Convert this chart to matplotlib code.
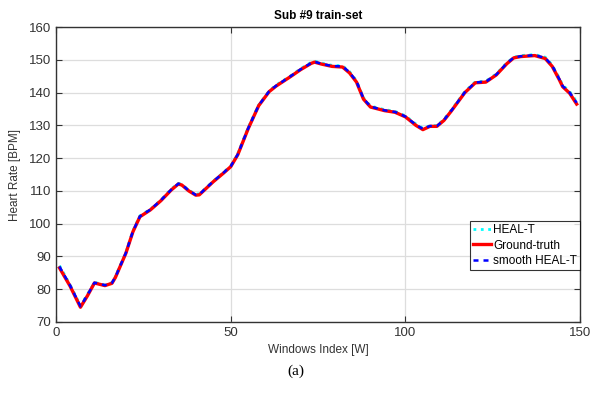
import matplotlib.pyplot as plt
import numpy as np

# window index + heart rate values
windows = [1, 4, 7, 9, 11, 14, 16, 17, 20, 22, 24, 27, 30, 33, 35, 36, 38, 40, 41,
           43, 45, 48, 50, 52, 55, 58, 61, 63, 67, 70, 73, 74, 76, 79, 82, 84, 86,
           88, 90, 94, 97, 100, 103, 105, 107, 109, 111, 113, 117, 120, 123, 126,
           129, 131, 133, 137, 140, 142, 144, 145, 147, 149]
ground_truth = [86.5, 81.0, 74.5, 78.0, 81.9, 81.1, 81.8, 83.6, 91.0, 97.5, 102.1,
                104.2, 107.0, 110.3, 112.1, 111.8, 110.0, 108.7, 108.8, 110.8, 112.8,
                115.5, 117.4, 121.0, 129.0, 136.0, 140.3, 142.0, 144.8, 147.0, 148.9,
                149.3, 148.7, 148.0, 147.8, 146.0, 143.2, 138.0, 135.6, 134.5, 134.0,
                132.6, 130.0, 128.7, 129.7, 129.7, 131.5, 134.2, 140.0, 143.0, 143.2,
                145.4, 148.8, 150.6, 151.0, 151.3, 150.4, 148.0, 144.0, 141.8, 139.8,
                136.5]
heal_t = [87.2, 81.4, 75.0, 78.4, 82.1, 81.3, 82.0, 83.8, 91.2, 97.8, 102.4,
          104.4, 107.2, 110.6, 112.3, 112.0, 110.2, 109.0, 109.1, 111.0, 113.0,
          115.7, 117.6, 121.3, 129.3, 136.2, 140.5, 142.3, 145.0, 147.3, 149.2,
          149.6, 149.0, 148.3, 148.2, 146.4, 143.6, 138.4, 135.9, 134.8, 134.3,
          132.9, 130.4, 129.1, 129.9, 129.9, 131.8, 134.5, 140.3, 143.3, 143.5,
          145.7, 149.1, 150.8, 151.3, 151.6, 150.8, 148.4, 144.5, 142.3, 140.3,
          137.2]
smooth_heal_t = [86.9, 81.2, 74.8, 78.2, 82.0, 81.2, 81.9, 83.7, 91.1, 97.6, 102.2,
                 104.3, 107.1, 110.4, 112.2, 111.9, 110.1, 108.8, 108.9, 110.9, 112.9,
                 115.6, 117.5, 121.1, 129.1, 136.1, 140.4, 142.1, 144.9, 147.1, 149.0,
                 149.4, 148.8, 148.1, 148.0, 146.2, 143.4, 138.2, 135.7, 134.6, 134.1,
                 132.7, 130.2, 128.9, 129.8, 129.8, 131.6, 134.3, 140.1, 143.1, 143.3,
                 145.5, 148.9, 150.7, 151.1, 151.4, 150.6, 148.2, 144.2, 142.0, 140.0,
                 136.9]

plt.rcParams['font.family'] = ['Liberation Sans', 'DejaVu Sans']

fig = plt.figure(figsize=(5.92, 3.98), dpi=100)
ax = fig.add_axes([0.0946, 0.191, 0.8854, 0.741])

ax.plot(windows, heal_t, ':', color='cyan', linewidth=2, label='HEAL-T')
ax.plot(windows, ground_truth, '-', color='red', linewidth=2.4, label='Ground-truth')
ax.plot(windows, smooth_heal_t, '--', color='blue', linewidth=1.8, dashes=(2, 2),
        label='smooth HEAL-T')

ax.set_xlim(0, 150)
ax.set_ylim(70, 160)
ax.set_xticks([0, 50, 100, 150])
ax.set_yticks(np.arange(70, 161, 10))
ax.grid(True, color='#dddddd', linewidth=0.9)
ax.set_axisbelow(True)
ax.tick_params(direction='in', top=True, right=True, labelsize=9.5,
               colors='#333333', length=4)
for s in ax.spines.values():
    s.set_color('#333333')
    s.set_linewidth(1.0)

ax.set_title('Sub #9 train-set', fontsize=8.5, fontweight='bold', pad=6)
ax.set_xlabel('Windows Index [W]', fontsize=8.5, color='#333333', labelpad=4)
ax.set_ylabel('Heart Rate [BPM]', fontsize=8.5, color='#333333', labelpad=6)

leg = ax.legend(loc='lower right', bbox_to_anchor=(1.0, 0.176), fontsize=8.5,
                frameon=True, fancybox=False, edgecolor='black',
                handlelength=1.5, handletextpad=0.2, borderpad=0.25,
                labelspacing=0.3, borderaxespad=0)
leg.get_frame().set_linewidth(0.8)

fig.text(0.5, 0.068, '(a)', ha='center', va='center', fontsize=11,
         family=['Liberation Serif', 'DejaVu Serif'])

plt.savefig('out.png', dpi=100)
